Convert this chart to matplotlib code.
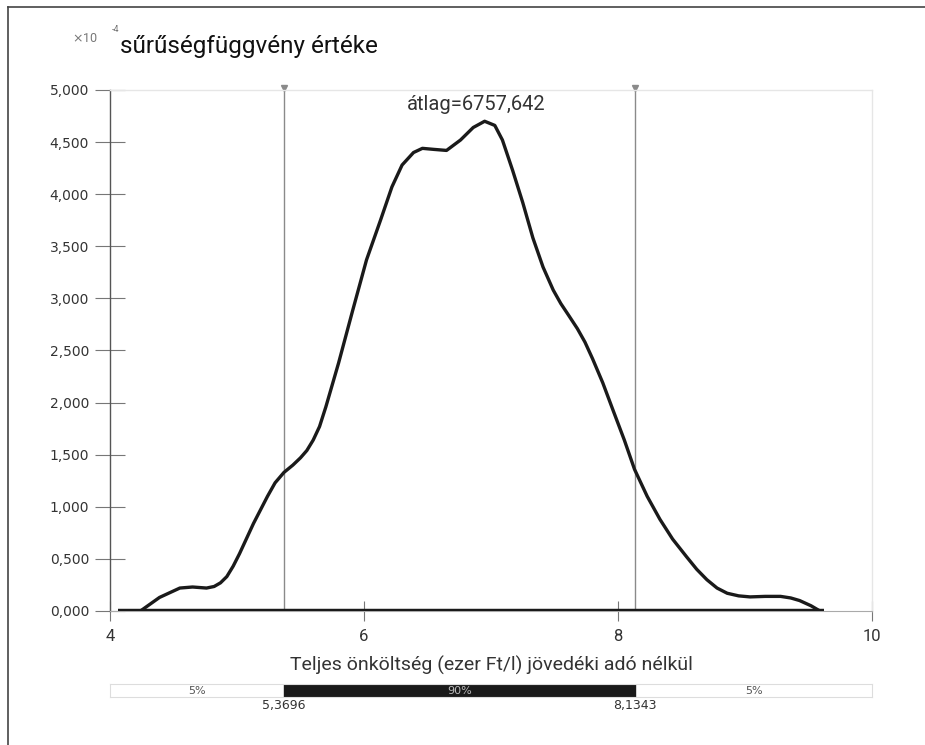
import numpy as np
import matplotlib
matplotlib.use("Agg")
import matplotlib.pyplot as plt
from matplotlib.lines import Line2D
from matplotlib.patches import Rectangle

# density curve (units of 1e-4)
cost = [4.24, 4.39, 4.55, 4.65, 4.76, 4.82, 4.87, 4.92, 4.97, 5.02, 5.13,
        5.24, 5.30, 5.37, 5.44, 5.50, 5.55, 5.60, 5.65, 5.70, 5.80, 5.91,
        6.02, 6.13, 6.22, 6.30, 6.39, 6.46, 6.55, 6.65, 6.76, 6.86, 6.95,
        7.03, 7.09, 7.17, 7.25, 7.33, 7.41, 7.49, 7.55, 7.61, 7.68, 7.74,
        7.80, 7.88, 7.96, 8.05, 8.13, 8.23, 8.33, 8.43, 8.54, 8.62, 8.70,
        8.78, 8.86, 8.95, 9.04, 9.16, 9.28, 9.36, 9.43, 9.52, 9.59]
density = [0.00, 0.13, 0.22, 0.23, 0.22, 0.235, 0.27, 0.33, 0.43, 0.55, 0.84,
           1.10, 1.23, 1.33, 1.40, 1.47, 1.54, 1.64, 1.77, 1.96, 2.38, 2.88,
           3.37, 3.75, 4.07, 4.28, 4.40, 4.44, 4.43, 4.42, 4.52, 4.64, 4.70,
           4.66, 4.52, 4.23, 3.92, 3.58, 3.30, 3.08, 2.95, 2.84, 2.71, 2.58,
           2.42, 2.19, 1.93, 1.64, 1.36, 1.10, 0.88, 0.69, 0.52, 0.40, 0.30,
           0.22, 0.17, 0.145, 0.135, 0.14, 0.14, 0.125, 0.10, 0.05, 0.00]
baseline_range = [4.06, 9.62]

lower, upper = 5.3696, 8.1343
shares = ["5%", "90%", "5%"]
xticks = [4, 6, 8, 10]
yticks = [0, 0.5, 1, 1.5, 2, 2.5, 3, 3.5, 4, 4.5, 5]
mean_label = "átlag=6757,642"

narrow = ["Liberation Sans Narrow", "DejaVu Sans"]
plain = ["Roboto", "DejaVu Sans"]

fig = plt.figure(figsize=(9.25, 7.45), dpi=100)
ax = fig.add_axes([0.1189, 0.1799, 0.8238, 0.6993])

ax.plot(baseline_range, [0, 0], color="#1a1a1a", lw=3.2, solid_capstyle="butt", zorder=3)
ax.plot(cost, density, color="#1a1a1a", lw=2.4, solid_joinstyle="round",
        solid_capstyle="round", zorder=4)

for v in (lower, upper):
    ax.plot([v, v], [0, 5], color="#8a8a8a", lw=1.0, zorder=2)
    ax.plot([v], [5.02], marker="v", color="#8a8a8a", ms=5, clip_on=False, zorder=2)

ax.set_xlim(4, 10)
ax.set_ylim(0, 5)
ax.set_xticks(xticks)
ax.set_xticklabels([str(t) for t in xticks], family=plain, fontsize=12, color="#333333")
ax.set_yticks(yticks)
ax.set_yticklabels([f"{t:.3f}".replace(".", ",") for t in yticks],
                   family=narrow, fontsize=10, color="#333333")
ax.tick_params(axis="y", direction="inout", length=22, width=0.8, color="#777777", pad=4)
ax.tick_params(axis="x", direction="inout", length=14, width=0.8, color="#777777", pad=6)

ax.spines["left"].set_color("#555555")
ax.spines["left"].set_linewidth(1.0)
ax.spines["bottom"].set_color("#aaaaaa")
for s in ("top", "right"):
    ax.spines[s].set_color("#e6e6e6")
    ax.spines[s].set_linewidth(1.0)

ax.text(6.88, 4.86, mean_label, ha="center", va="center", family=plain,
        fontsize=14.5, color="#333333")

fig.text(0.078, 0.948, r"$\times$10", family=plain, fontsize=9, color="#777777", va="center")
fig.text(0.121, 0.960, "-4", family=plain, fontsize=6.5, color="#777777", va="center")
fig.text(0.130, 0.937, "sűrűségfüggvény értéke", family=plain, fontsize=17.5,
         color="#111111", va="center")

fig.text(0.531, 0.107, "Teljes önköltség (ezer Ft/l) jövedéki adó nélkül",
         family=plain, fontsize=14, color="#333333", ha="center", va="center")

# percentile bar below
bx = fig.add_axes([0.1189, 0.0644, 0.8238, 0.0175], sharex=ax)
bx.set_ylim(0, 1)
bx.add_patch(Rectangle((lower, 0), upper - lower, 1, color="#1a1a1a"))
for s in bx.spines.values():
    s.set_color("#dddddd")
bx.tick_params(left=False, bottom=False, labelleft=False, labelbottom=False)
bx.text((4 + lower) / 2, 0.5, shares[0], ha="center", va="center",
        family=narrow, fontsize=8, color="#555555")
bx.text((lower + upper) / 2, 0.5, shares[1], ha="center", va="center",
        family=narrow, fontsize=8, color="#bbbbbb")
bx.text((upper + 10) / 2, 0.5, shares[2], ha="center", va="center",
        family=narrow, fontsize=8, color="#555555")
for v in (lower, upper):
    bx.text(v, -0.15, f"{v:.4f}".replace(".", ","), ha="center", va="top",
            family=narrow, fontsize=9, color="#333333")

# page frame on top and left
fig.add_artist(Line2D([0.0087, 1.0], [0.9906, 0.9906], color="#444444", lw=1.2))
fig.add_artist(Line2D([0.0087, 0.0087], [0.0, 0.9906], color="#444444", lw=1.2))

fig.savefig("out.png", dpi=100)
